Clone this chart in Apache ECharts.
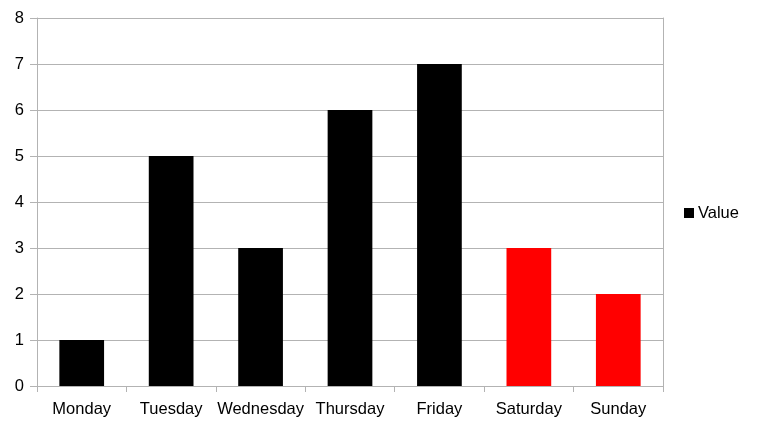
<!DOCTYPE html>
<html><head><meta charset="utf-8">
<script src="https://cdn.jsdelivr.net/npm/echarts@6/dist/echarts.min.js"></script>
<style>html,body{margin:0;padding:0;background:#fff}#c{width:757px;height:426px}</style>
</head><body><div id="c"></div>
<script>
const categories = ["Monday","Tuesday","Wednesday","Thursday","Friday","Saturday","Sunday"];
const values = [1,5,3,6,7,3,2];
const barColors = ["#000000","#000000","#000000","#000000","#000000","#ff0000","#ff0000"];
const seriesName = "Value";

const gray = "#b3b3b3";
const font = "'Liberation Sans', Arial, sans-serif";
const chart = echarts.init(document.getElementById('c'), null, {renderer:'canvas'});
chart.setOption({
  animation:false,
  backgroundColor:'#fff',
  textStyle:{fontFamily:font},
  grid:{left:37,right:94,top:18,bottom:40,containLabel:false},
  legend:{
    show:true, left:679, top:'middle', orient:'vertical',
    icon:'rect', itemWidth:10, itemHeight:10, itemGap:5,
    textStyle:{fontFamily:font,fontSize:16.5,color:'#000',padding:[2,0,0,-1]},
    data:[seriesName]
  },
  xAxis:{
    type:'category', data:categories, boundaryGap:true,
    axisLine:{show:true,lineStyle:{color:gray,width:1}},
    axisTick:{show:true,length:6,interval:0,lineStyle:{color:gray}},
    axisLabel:{fontFamily:font,fontSize:16.5,color:'#000',margin:15,interval:0}
  },
  yAxis:[{
    type:'value', min:0, max:8, interval:1,
    axisLine:{show:true,lineStyle:{color:gray,width:1}},
    axisTick:{show:true,length:7,lineStyle:{color:gray}},
    axisLabel:{fontFamily:font,fontSize:16.5,color:'#000',margin:13,padding:[4,0,0,0]},
    splitLine:{show:true,lineStyle:{color:gray,width:1}}
  },{
    type:'value', min:0, max:8, interval:1, position:'right',
    axisLine:{show:true,lineStyle:{color:gray,width:1}},
    axisTick:{show:false}, axisLabel:{show:false}, splitLine:{show:false}
  }],
  series:[{
    name:seriesName, type:'bar', barWidth:'50%',
    itemStyle:{color:'#000000'},
    data:values.map((v,i)=>({value:v,itemStyle:{color:barColors[i]}}))
  }]
});
</script></body></html>
